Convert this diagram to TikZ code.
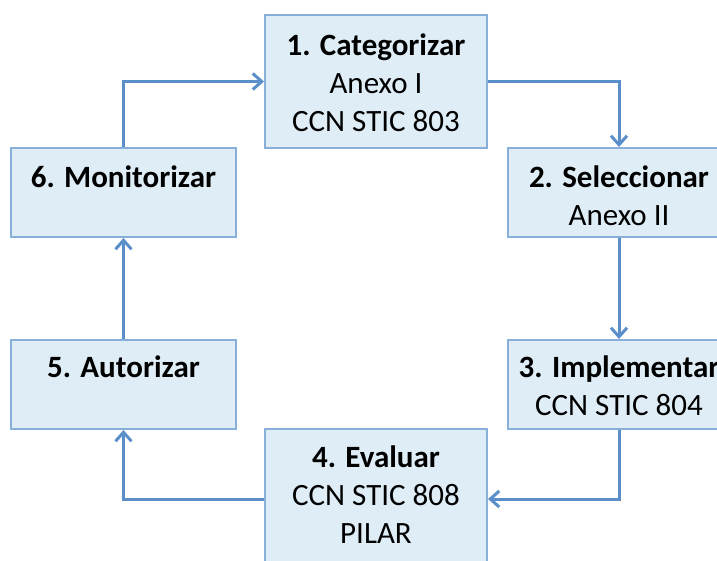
\documentclass[tikz,border=0pt]{standalone}
\usepackage{fontspec}
\setmainfont{Carlito}
\usetikzlibrary{arrows.meta,calc}
\definecolor{boxfill}{RGB}{223,238,246}
\definecolor{boxline}{RGB}{136,174,218}
\definecolor{arrowc}{RGB}{91,143,201}
\tikzset{
  stepbox/.style={draw=boxline, line width=2pt, fill=boxfill, rectangle, inner sep=0pt, anchor=north west},
  steptext/.style={align=center, anchor=north, inner sep=0pt, font=\fontsize{31}{38}\selectfont, text=black},
  flow/.style={draw=arrowc, line width=3pt, -{Straight Barb[length=9pt,width=16pt,line width=3pt]}}
}
\newcommand{\topstrut}{\rule{0pt}{25pt}}
\begin{document}
\begin{tikzpicture}[x=1pt,y=-1pt]
\useasboundingbox (0,0) rectangle (717,560);
\clip (0,0) rectangle (717,560);
% boxes
\node[stepbox, minimum width=222pt, minimum height=133pt] (b1) at (264,14) {};
\node[stepbox, minimum width=222pt, minimum height=89pt] (b2) at (507,147) {};
\node[stepbox, minimum width=222pt, minimum height=89pt] (b3) at (507,339) {};
\node[stepbox, minimum width=222pt, minimum height=140pt] (b4) at (264,428) {};
\node[stepbox, minimum width=225pt, minimum height=89pt] (b5) at (10,339) {};
\node[stepbox, minimum width=225pt, minimum height=89pt] (b6) at (10,147) {};
% texts
\node[steptext] (t1) at ([yshift=-16pt]b1.north) {\topstrut\textbf{1. Categorizar}\\Anexo I\\CCN STIC 803};
\node[steptext] (t2) at ([yshift=-15pt]b2.north) {\topstrut\textbf{2. Seleccionar}\\Anexo II};
\node[steptext] (t3) at ([yshift=-13pt]b3.north) {\topstrut\textbf{3. Implementar}\\CCN STIC 804};
\node[steptext] (t4) at ([yshift=-14pt]b4.north) {\topstrut\textbf{4. Evaluar}\\CCN STIC 808\\PILAR};
\node[steptext] (t5) at ([yshift=-13pt]b5.north) {\topstrut\textbf{5. Autorizar}};
\node[steptext] (t6) at ([yshift=-15pt]b6.north) {\topstrut\textbf{6. Monitorizar}};
% connectors
\draw[flow] (b1.east) -| (b2.north);
\draw[flow] (b2.south) -- (b3.north);
\draw[flow] (b3.south) |- (b4.east);
\draw[flow] (b4.west) -| (b5.south);
\draw[flow] (b5.north) -- (b6.south);
\draw[flow] (b6.north) |- (b1.west);
\end{tikzpicture}
\end{document}
